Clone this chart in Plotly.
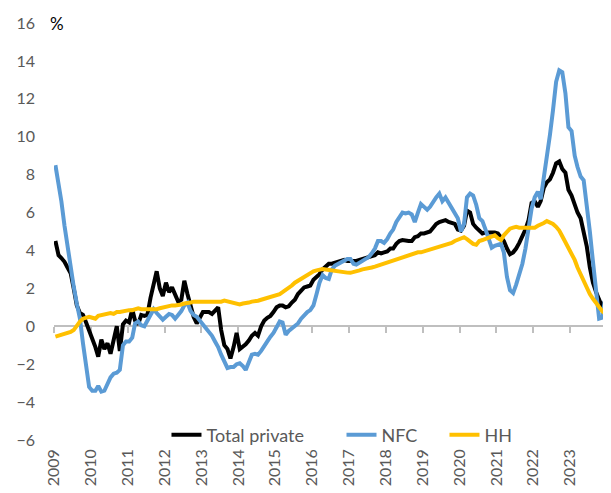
import pandas as pd
import plotly.graph_objects as go

# Monthly series, Jan 2009 - Dec 2023 (one row per year)
total_private = [
    4.5, 3.75, 3.6, 3.4, 3.1, 2.8, 2.0, 1.1, 0.7, 0.6, 0.2, -0.2,
    -0.75, -1.1, -1.6, -0.7, -1.2, -0.9, -1.45, -0.6, 0.0, -1.3, 0.1, 0.3,
    0.2, 0.9, 0.3, 0.1, 0.6, 0.55, 0.6, 1.5, 2.3, 2.9, 2.0, 1.6,
    2.3, 1.8, 2.05, 1.6, 1.3, 1.4, 2.4, 1.7, 1.1, 0.5, 0.15, 0.5,
    0.75, 0.75, 0.75, 0.65, 0.8, 1.0, -0.2, -1.0, -1.2, -1.7, -1.1, -0.35,
    -1.2, -1.1, -0.95, -0.75, -0.5, -0.35, -0.5, 0.0, 0.3, 0.45, 0.55, 0.75,
    1.0, 1.1, 1.1, 1.0, 1.05, 1.25, 1.4, 1.7, 1.85, 2.05, 2.1, 2.15,
    2.45, 2.6, 2.75, 3.0, 3.15, 3.3, 3.3, 3.35, 3.4, 3.45, 3.5, 3.45,
    3.45, 3.4, 3.45, 3.5, 3.55, 3.6, 3.65, 3.75, 3.75, 3.9, 3.85, 3.9,
    3.95, 4.1, 4.1, 4.35, 4.5, 4.55, 4.5, 4.5, 4.5, 4.7, 4.75, 4.9,
    4.9, 4.95, 5.0, 5.2, 5.4, 5.5, 5.55, 5.6, 5.5, 5.45, 5.4, 5.1,
    5.05, 5.3, 6.1, 6.0, 5.4, 5.2, 5.05, 4.9, 4.95, 4.95, 5.0, 4.95,
    4.9, 4.7, 4.5, 4.1, 3.8, 3.9, 4.1, 4.4, 4.7, 5.1, 5.6, 6.5,
    6.6, 6.3, 6.6, 7.3, 7.6, 7.75, 8.1, 8.6, 8.7, 8.3, 8.1, 7.2,
    6.9, 6.4, 6.0, 5.7, 5.0, 4.2, 3.1, 2.3, 1.8, 1.4, 1.0, 1.35,
]

nfc = [
    8.5, 7.6, 6.6, 5.3, 4.2, 3.2, 2.1, 1.2, 0.4, -0.9, -2.0, -3.2,
    -3.4, -3.4, -3.15, -3.45, -3.4, -3.0, -2.7, -2.5, -2.45, -2.3, -1.0, -0.8,
    -0.8, -0.6, 0.15, 0.25, 0.05, 0.0, 0.3, 0.6, 0.9, 0.7, 0.5, 0.35,
    0.5, 0.65, 0.6, 0.4, 0.6, 0.8, 1.1, 1.25, 0.8, 0.6, 0.5, 0.3,
    0.1, -0.1, -0.25, -0.5, -0.8, -1.1, -1.5, -1.8, -2.2, -2.15, -2.15, -2.0,
    -1.95, -2.1, -2.3, -1.9, -1.5, -1.45, -1.5, -1.3, -1.0, -0.8, -0.55, -0.35,
    -0.05, 0.25, 0.2, -0.45, -0.25, -0.1, 0.0, 0.15, 0.4, 0.6, 0.75, 0.85,
    1.1, 1.7, 2.3, 2.7, 2.55, 2.5, 3.0, 3.2, 3.3, 3.35, 3.5, 3.55,
    3.55, 3.3, 3.25, 3.35, 3.45, 3.5, 3.65, 3.85, 4.1, 4.5, 4.5, 4.4,
    4.6, 4.9, 5.1, 5.5, 5.8, 6.0, 5.95, 6.0, 5.9, 5.5, 6.0, 6.45,
    6.3, 6.15, 6.3, 6.6, 6.8, 7.0, 6.6, 6.8, 6.5, 6.3, 6.0, 5.7,
    5.0, 5.4, 6.8, 7.0, 6.9, 6.4, 5.7, 5.55, 5.1, 4.6, 4.15, 4.25,
    4.3, 4.35, 3.9, 2.6, 1.9, 1.75, 2.2, 2.75, 3.3, 4.1, 5.1, 6.2,
    6.8, 7.1, 6.7, 7.8, 8.7, 10.1, 11.4, 12.9, 13.5, 13.4, 12.3, 10.5,
    10.3, 9.0, 8.4, 7.9, 7.7, 6.5, 5.0, 3.4, 1.9, 0.4, 0.45, 1.5,
]

hh = [
    -0.55, -0.5, -0.45, -0.4, -0.35, -0.3, -0.2, 0.05, 0.25, 0.4, 0.45, 0.5,
    0.45, 0.4, 0.55, 0.6, 0.6, 0.65, 0.7, 0.65, 0.75, 0.75, 0.8, 0.8,
    0.85, 0.85, 0.9, 0.95, 0.9, 0.9, 0.9, 0.85, 0.85, 0.9, 0.95, 1.0,
    1.0, 1.05, 1.1, 1.1, 1.1, 1.15, 1.2, 1.2, 1.25, 1.3, 1.3, 1.3,
    1.3, 1.3, 1.25, 1.25, 1.25, 1.3, 1.3, 1.35, 1.3, 1.25, 1.2, 1.2,
    1.15, 1.2, 1.2, 1.25, 1.3, 1.3, 1.35, 1.4, 1.45, 1.5, 1.55, 1.6,
    1.65, 1.7, 1.8, 1.9, 2.0, 2.15, 2.3, 2.4, 2.5, 2.65, 2.75, 2.85,
    2.9, 2.95, 3.0, 3.02, 3.0, 2.97, 2.93, 2.9, 2.87, 2.85, 2.85, 2.83,
    2.82, 2.85, 2.9, 2.95, 3.0, 3.02, 3.05, 3.1, 3.15, 3.2, 3.25, 3.3,
    3.35, 3.4, 3.45, 3.5, 3.6, 3.65, 3.7, 3.75, 3.8, 3.85, 3.9, 3.9,
    3.95, 4.0, 4.0, 4.1, 4.15, 4.15, 4.25, 4.3, 4.3, 4.4, 4.5, 4.55,
    4.6, 4.7, 4.6, 4.45, 4.35, 4.3, 4.5, 4.55, 4.6, 4.65, 4.7, 4.8,
    4.65, 4.55, 4.8, 5.0, 5.15, 5.2, 5.25, 5.2, 5.2, 5.15, 5.15, 5.2,
    5.2, 5.3, 5.35, 5.45, 5.55, 5.5, 5.4, 5.25, 5.05, 4.75, 4.45, 4.1,
    3.8, 3.5, 3.1, 2.75, 2.4, 2.0, 1.7, 1.45, 1.2, 1.0, 0.8, 0.65,
]

start_month = "2009-01-01"
n_months = len(total_private)
dates = pd.date_range(start_month, periods=n_months, freq="MS") + pd.Timedelta(days=14)
x_range = ["2009-01-01", "2024-01-01"]
y_range = [-6, 16]

FONT = "Lato, Open Sans, sans-serif"
GREY = "#595959"
AXIS_GREY = "#BFBFBF"

# The page body adds an 8px offset; the figure is sized to fill the window.
W, H = 603, 485
M = dict(l=46, r=4, t=15, b=53)

# name, values, colour, x-axis, legend id, legend x position (paper)
series = [
    ("Total private", total_private, "#000000", "x", "legend", 0.2034),
    ("NFC", nfc, "#5B9BD5", "x", "legend2", 0.5199),
    ("HH", hh, "#FFC000", "x2", "legend3", 0.7061),
]

fig = go.Figure()
for name, vals, color, xax, leg, _ in series:
    fig.add_trace(go.Scatter(
        x=dates, y=vals, name=name, mode="lines", xaxis=xax, legend=leg,
        line=dict(color=color, width=4),
    ))

legend_common = dict(
    orientation="h", y=0.012, xanchor="left", yanchor="middle",
    font=dict(family=FONT, size=18, color=GREY), bgcolor="rgba(0,0,0,0)",
)
legends = {leg: dict(legend_common, x=lx) for _, _, _, _, leg, lx in series}

zero_pos = (0 - y_range[0]) / (y_range[1] - y_range[0])

fig.update_layout(
    width=W, height=H,
    margin=dict(M, autoexpand=False),
    paper_bgcolor="white", plot_bgcolor="white",
    font=dict(family=FONT, size=16, color=GREY),
    showlegend=True,
    **legends,
    # axis line and year tick marks crossing at y = 0
    xaxis=dict(
        type="date", range=x_range, automargin=False,
        anchor="free", position=zero_pos,
        tick0="2009-01-01", dtick="M12", showticklabels=False,
        ticks="outside", ticklen=6, tickwidth=1.5, tickcolor=AXIS_GREY,
        showline=True, linecolor=AXIS_GREY, linewidth=1.5,
        showgrid=False, zeroline=False, layer="below traces",
    ),
    # year labels along the bottom
    xaxis2=dict(
        type="date", range=x_range, automargin=False,
        overlaying="x", anchor="y", side="bottom", matches="x",
        tick0="2009-01-01", dtick="M12", tickformat="%Y",
        tickangle=-90, ticks="", showgrid=False, showline=False,
        zeroline=False, ticklabelstandoff=5,
        tickfont=dict(family=FONT, size=16, color=GREY),
    ),
    yaxis=dict(
        range=y_range, dtick=2, tick0=0, showgrid=False, automargin=False,
        zeroline=False, showline=False, ticks="", ticklabelstandoff=18,
        tickfont=dict(family=FONT, size=16, color=GREY),
    ),
    annotations=[dict(
        text="%", xref="paper", yref="paper", x=0.0, y=1.0,
        xanchor="left", yanchor="middle", showarrow=False, xshift=-6,
        font=dict(family=FONT, size=17, color="#000000"),
    )],
)

fig.write_html("out.html")
